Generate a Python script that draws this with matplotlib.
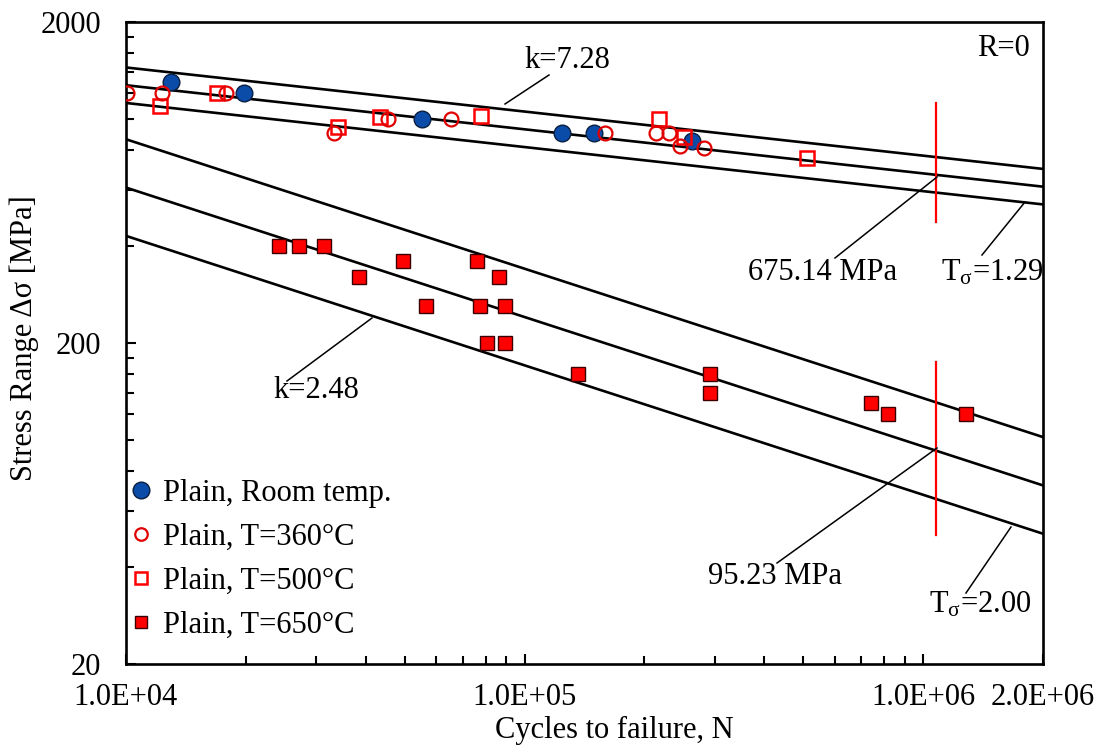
import numpy as np
import matplotlib
matplotlib.use("Agg")
import matplotlib.pyplot as plt
from matplotlib.lines import Line2D

plt.rcParams['font.family'] = ['Liberation Serif', 'DejaVu Serif']
plt.rcParams['mathtext.fontset'] = 'custom'
plt.rcParams['mathtext.rm'] = 'Liberation Serif'
plt.rcParams['mathtext.it'] = 'Liberation Serif:italic'

# ---------------- data ----------------
room_N = [13000, 19800, 55200, 124500, 149600, 262600]
room_S = [1300, 1200, 1000, 900, 900, 850]

t360_N = [10060, 12300, 17800, 33200, 45500, 65300, 159600, 214000, 230000, 246000, 282500]
t360_S = [1200, 1200, 1200, 900, 1000, 1000, 900, 900, 900, 820, 810]

t500_N = [12170, 16900, 33960, 43500, 77600, 217700, 251800, 511600]
t500_S = [1095, 1200, 940, 1010, 1020, 1000, 877, 753]

t650_N = [24160, 27170, 31330, 38380, 49430, 56750, 76200, 77100, 80300,
          86500, 89500, 89500, 135900, 292400, 292400, 741000, 817000, 1282000]
t650_S = [400, 400, 400, 320, 360, 260, 360, 260, 200,
          320, 260, 200, 160, 160, 140, 130, 120, 120]

# S-N curves: slope k, reference stress at N=1e6, scatter T_sigma
curve_k = [7.28, 2.48]
curve_Sref = [675.14, 95.23]
curve_T = [1.29, 2.00]
N_range = [1e4, 2e6]

# red marker lines (N, S_low, S_high)
red_N = [1.08e6, 1.08e6]
red_Slo = [477, 50.5]
red_Shi = [1119, 174.6]

x_ticks = [1e4, 1e5, 1e6, 2e6]
x_ticklabels = ['1.0E+04', '1.0E+05', '1.0E+06', '2.0E+06']
y_ticks = [20, 200, 2000]
y_ticklabels = ['20', '200', '2000']

# ---------------- figure ----------------
W, H = 1112, 754
fig = plt.figure(figsize=(W / 100, H / 100), dpi=100)
L, R, T, B = 126, 1043, 22, 664
ax = fig.add_axes([L / W, 1 - B / H, (R - L) / W, (B - T) / H])
ax.set_xscale('log')
ax.set_yscale('log')
ax.set_xlim(1e4, 2e6)
ax.set_ylim(20, 2000)

FS = 22

# curves
Nline = np.logspace(np.log10(N_range[0]), np.log10(N_range[1]), 200)
for k, Sref, Ts in zip(curve_k, curve_Sref, curve_T):
    for f in [np.sqrt(Ts), 1.0, 1 / np.sqrt(Ts)]:
        ax.plot(Nline, Sref * f * (Nline / 1e6) ** (-1.0 / k), color='black', lw=1.9, zorder=2)

for n, lo, hi in zip(red_N, red_Slo, red_Shi):
    ax.plot([n, n], [lo, hi], color='#FF0000', lw=1.6, zorder=2)

# data markers
ax.plot(t650_N, t650_S, 's', ms=9.5, mfc='#FF0000', mec='#3a0000', mew=1.0, ls='none', zorder=4)
ax.plot(t500_N, t500_S, 's', ms=9.5, mfc='none', mec='#FF0000', mew=1.8, ls='none', zorder=4)
ax.plot(room_N, room_S, 'o', ms=12, mfc='#0B4CA8', mec='#0a1e40', mew=1.0, ls='none', zorder=3)
ax.plot(t360_N, t360_S, 'o', ms=10, mfc='none', mec='#E00000', mew=1.6, ls='none', zorder=4)

# ticks
ax.set_xticks(x_ticks)
ax.set_xticklabels(x_ticklabels)
ax.set_xticks([m * 10 ** e for e in (4, 5) for m in range(2, 10)], minor=True)
ax.set_xticklabels([], minor=True)
ax.set_yticks(y_ticks)
ax.set_yticklabels(y_ticklabels)
ax.set_yticks([m * 20 for m in range(2, 10)] + [m * 200 for m in range(2, 10)], minor=True)
ax.set_yticklabels([], minor=True)
ax.tick_params(axis='both', which='both', direction='in', top=False, right=False,
               labelsize=FS, width=1.5)
ax.tick_params(axis='both', which='major', length=7)
ax.tick_params(axis='both', which='minor', length=6)
ax.tick_params(axis='x', which='major', pad=14)
ax.tick_params(axis='y', which='major', pad=18)
for s in ax.spines.values():
    s.set_linewidth(1.9)


# annotations in pixel-based axes fraction
def P(px, py):
    return ((px - L) / (R - L), (B - py) / (B - T))


ax.set_xlabel('Cycles to failure, N', fontsize=FS)
ax.xaxis.set_label_coords(*P(614, 730))
ax.xaxis.label.set_va('center')
ax.set_ylabel('Stress Range Δσ [MPa]', fontsize=FS)
ax.yaxis.set_label_coords(*P(24, 338))
ax.yaxis.label.set_va('center')


def leader(p0, p1):
    a, b = P(*p0), P(*p1)
    ax.plot([a[0], b[0]], [a[1], b[1]], transform=ax.transAxes, color='black', lw=1.1, zorder=5)


def label(txt, px, py):
    x, y = P(px, py)
    ax.text(x, y, txt, transform=ax.transAxes, fontsize=FS, ha='center', va='center', zorder=6)


leader((505, 104), (549, 75))
label('k=7.28', 567, 60)
leader((287, 381), (372, 318))
label('k=2.48', 316, 391)
leader((835, 258), (937, 177))
label('675.14 MPa', 823, 273)
leader((982, 255), (1025, 202))
label(r'T$_{\mathrm{σ}}$=1.29', 992, 273)
leader((777, 563), (937, 448))
label('95.23 MPa', 775, 577)
leader((966, 593), (1011, 527))
label(r'T$_{\mathrm{σ}}$=2.00', 980, 605)
label('R=0', 1003, 48)

handles = [
    Line2D([], [], marker='o', ls='none', ms=12, mfc='#0B4CA8', mec='#0a1e40', mew=1.0),
    Line2D([], [], marker='o', ls='none', ms=9, mfc='none', mec='#E00000', mew=1.6),
    Line2D([], [], marker='s', ls='none', ms=9, mfc='none', mec='#FF0000', mew=1.8),
    Line2D([], [], marker='s', ls='none', ms=9, mfc='#FF0000', mec='#3a0000', mew=1.0),
]
labels = ['Plain, Room temp.', 'Plain, T=360°C', 'Plain, T=500°C', 'Plain, T=650°C']
ax.legend(handles, labels, loc='lower left', bbox_to_anchor=P(132, 640), frameon=False,
          fontsize=FS, handlelength=0.6, handletextpad=0.4, labelspacing=0.49,
          borderpad=0, borderaxespad=0)

fig.savefig('out.png', dpi=100)
